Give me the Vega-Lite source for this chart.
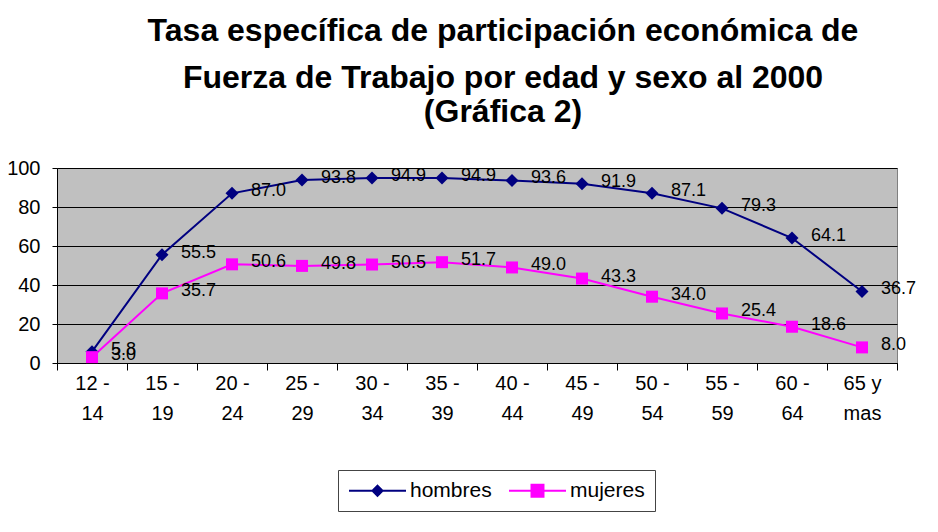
{
  "$schema": "https://vega.github.io/schema/vega-lite/v6.json",
  "autosize": "none",
  "padding": {"left": 57, "top": 168, "right": 41, "bottom": 169},
  "width": 840,
  "height": 195,
  "background": "white",
  "config": {
    "font": "Liberation Sans",
    "view": {"fill": "#C0C0C0", "stroke": "#808080", "strokeWidth": 1}
  },
  "title": {
    "text": "Tasa específica de participación económica de",
    "subtitle": ["Fuerza de Trabajo por edad y sexo al 2000", "(Gráfica 2)"],
    "anchor": "middle",
    "frame": "group",
    "dx": 26,
    "offset": 29,
    "font": "Liberation Sans",
    "fontSize": 32,
    "fontWeight": "bold",
    "color": "black",
    "subtitleFont": "Liberation Sans",
    "subtitleFontSize": 32,
    "subtitleFontWeight": "bold",
    "subtitleColor": "black",
    "subtitleLineHeight": 34,
    "subtitlePadding": 15
  },
  "data": {
    "values": [
      {"edad": "12 -|14", "sexo": "hombres", "tasa": 5.8},
      {"edad": "15 -|19", "sexo": "hombres", "tasa": 55.5},
      {"edad": "20 -|24", "sexo": "hombres", "tasa": 87.0},
      {"edad": "25 -|29", "sexo": "hombres", "tasa": 93.8},
      {"edad": "30 -|34", "sexo": "hombres", "tasa": 94.9},
      {"edad": "35 -|39", "sexo": "hombres", "tasa": 94.9},
      {"edad": "40 -|44", "sexo": "hombres", "tasa": 93.6},
      {"edad": "45 -|49", "sexo": "hombres", "tasa": 91.9},
      {"edad": "50 -|54", "sexo": "hombres", "tasa": 87.1},
      {"edad": "55 -|59", "sexo": "hombres", "tasa": 79.3},
      {"edad": "60 -|64", "sexo": "hombres", "tasa": 64.1},
      {"edad": "65 y|mas", "sexo": "hombres", "tasa": 36.7},
      {"edad": "12 -|14", "sexo": "mujeres", "tasa": 3.0},
      {"edad": "15 -|19", "sexo": "mujeres", "tasa": 35.7},
      {"edad": "20 -|24", "sexo": "mujeres", "tasa": 50.6},
      {"edad": "25 -|29", "sexo": "mujeres", "tasa": 49.8},
      {"edad": "30 -|34", "sexo": "mujeres", "tasa": 50.5},
      {"edad": "35 -|39", "sexo": "mujeres", "tasa": 51.7},
      {"edad": "40 -|44", "sexo": "mujeres", "tasa": 49.0},
      {"edad": "45 -|49", "sexo": "mujeres", "tasa": 43.3},
      {"edad": "50 -|54", "sexo": "mujeres", "tasa": 34.0},
      {"edad": "55 -|59", "sexo": "mujeres", "tasa": 25.4},
      {"edad": "60 -|64", "sexo": "mujeres", "tasa": 18.6},
      {"edad": "65 y|mas", "sexo": "mujeres", "tasa": 8.0}
    ]
  },
  "encoding": {
    "x": {
      "field": "edad",
      "type": "nominal",
      "sort": null,
      "scale": {"type": "band", "paddingInner": 0, "paddingOuter": 0},
      "axis": {
        "title": null,
        "labelAngle": 0,
        "labelExpr": "split(datum.label, '|')",
        "labelFontSize": 20,
        "labelColor": "black",
        "labelLineHeight": 30,
        "labelBaseline": "top",
        "labelPadding": 3,
        "tickBand": "extent",
        "tickSize": 7,
        "tickColor": "black",
        "domainColor": "black",
        "domainWidth": 1,
        "grid": false
      }
    },
    "y": {
      "field": "tasa",
      "type": "quantitative",
      "scale": {"domain": [0, 100], "nice": false},
      "axis": {
        "title": null,
        "values": [0, 20, 40, 60, 80, 100],
        "labelFontSize": 20,
        "labelColor": "black",
        "labelPadding": 12,
        "tickSize": 5,
        "tickColor": "black",
        "domainColor": "black",
        "grid": true,
        "gridColor": "black",
        "gridOpacity": 1,
        "gridWidth": 1
      }
    },
    "color": {
      "field": "sexo",
      "type": "nominal",
      "scale": {"domain": ["hombres", "mujeres"], "range": ["#000080", "#FF00FF"]},
      "legend": {
        "title": null,
        "orient": "none",
        "legendX": 281,
        "legendY": 302,
        "direction": "horizontal",
        "strokeColor": "#444444",
        "fillColor": "white",
        "padding": 10,
        "labelFontSize": 21,
        "labelColor": "black",
        "labelOffset": 41,
        "columnPadding": 13,
        "symbolSize": 361,
        "symbolStrokeWidth": 2,
        "encode": {
          "symbols": {
            "update": {
              "shape": {"signal": "datum.value === 'hombres' ? 'M-1,0L5,0M2,-0.53L2.53,0L2,0.53L1.47,0Z' : 'M-1,0L5,0M1.37,-0.63L2.63,-0.63L2.63,0.63L1.37,0.63Z'"},
              "fill": {"signal": "datum.value === 'hombres' ? '#000080' : '#FF00FF'"},
              "stroke": {"signal": "datum.value === 'hombres' ? '#000080' : '#FF00FF'"}
            }
          }
        }
      }
    }
  },
  "layer": [
    {
      "mark": {"type": "line", "strokeWidth": 2}
    },
    {
      "transform": [{"filter": "datum.sexo === 'hombres'"}],
      "mark": {"type": "point", "filled": true, "opacity": 1, "shape": "diamond", "size": 169}
    },
    {
      "transform": [{"filter": "datum.sexo === 'mujeres'"}],
      "mark": {"type": "point", "filled": true, "opacity": 1, "shape": "square", "size": 144}
    },
    {
      "mark": {"type": "text", "align": "left", "baseline": "middle", "dx": 19, "dy": -2, "fontSize": 18, "color": "black"},
      "encoding": {
        "text": {"field": "tasa", "type": "quantitative", "format": ".1f"},
        "color": {"value": "black"}
      }
    }
  ]
}
